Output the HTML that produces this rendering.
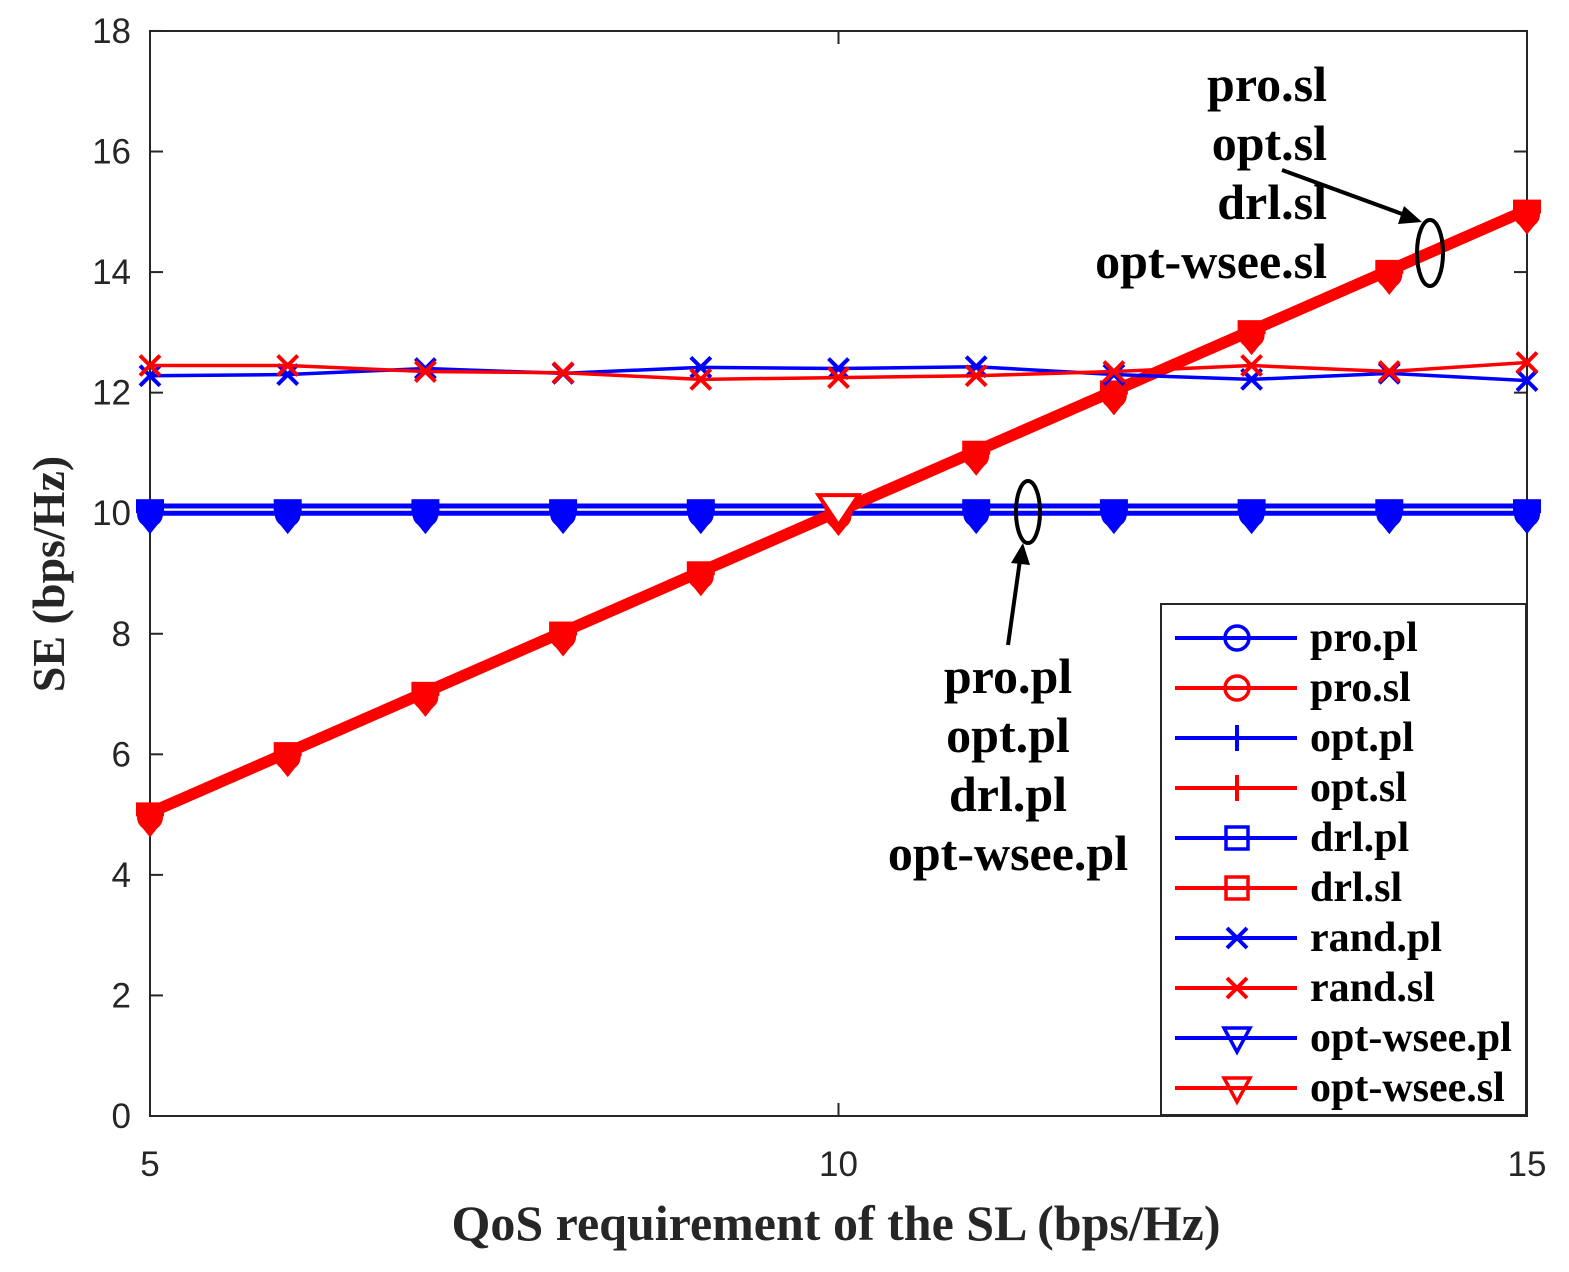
<!DOCTYPE html><html><head><style>body{margin:0;background:#fff}</style></head><body>
<svg id="s" width="1569" height="1267" xmlns="http://www.w3.org/2000/svg" font-family="Liberation Sans, sans-serif"></svg>
<script>
const s=document.getElementById('s');let h='';
const X=v=>150+(v-5)*137.7, Y=v=>1116-v*60.28;
h+='<rect x="150" y="31" width="1377" height="1085" fill="#fff" stroke="#262626" stroke-width="2"/>';
for(let v=0;v<=18;v+=2){const y=Y(v);h+=`<line x1="150" x2="163" y1="${y}" y2="${y}" stroke="#262626" stroke-width="2"/><line x1="1527" x2="1514" y1="${y}" y2="${y}" stroke="#262626" stroke-width="2"/><text x="131" y="${y+12}" font-size="35" text-anchor="end" fill="#262626">${v}</text>`;}
for(const v of [5,10,15]){const x=X(v);h+=`<line x1="${x}" x2="${x}" y1="1116" y2="1103" stroke="#262626" stroke-width="2"/><line x1="${x}" x2="${x}" y1="31" y2="44" stroke="#262626" stroke-width="2"/><text x="${x}" y="1176" font-size="35" text-anchor="middle" fill="#262626">${v}</text>`;}
h+='<text x="836" y="1240" font-family="Liberation Serif,serif" font-weight="bold" font-size="50" text-anchor="middle" fill="#262626">QoS requirement of the SL (bps/Hz)</text>';
h+='<text transform="translate(64,574) rotate(-90)" font-family="Liberation Serif,serif" font-weight="bold" font-size="46" text-anchor="middle" fill="#262626">SE (bps/Hz)</text>';
const xs=[5,6,7,8,9,10,11,12,13,14,15];
function line(vals,c,w){return `<polyline fill="none" stroke="${c}" stroke-width="${w}" points="${vals.map((v,i)=>X(xs[i])+','+Y(v)).join(' ')}"/>`;}
function cross(x,y,c){return `<path d="M${x-10},${y-10}L${x+10},${y+10}M${x-10},${y+10}L${x+10},${y-10}" stroke="${c}" stroke-width="4"/>`;}
function blob(x,y,c){return `<circle cx="${x}" cy="${y+4}" r="13" fill="${c}"/><rect x="${x-14}" y="${y-11}" width="28" height="14" fill="${c}"/><path d="M${x-8},${y+14}L${x},${y+24}L${x+8},${y+14}Z" fill="${c}"/>`;}
h+=line(xs.map(_=>10.12),'#00f',5)+line(xs.map(_=>10.0),'#00f',5);
xs.forEach(v=>{if(v!=10)h+=blob(X(v),Y(10.05),'#00f');});
h+=line(xs.map(v=>v+0.08),'#f00',6)+line(xs.map(v=>v-0.02),'#f00',6);
xs.forEach(v=>{h+=blob(X(v),Y(v+0.02),'#f00');});
const x10=X(10),y10=Y(10.05);h+=`<path d="M${x10-20},${y10-15}L${x10+20},${y10-15}L${x10},${y10+15}Z" fill="#fff" stroke="#f00" stroke-width="4"/>`;
const rp=[12.28,12.3,12.4,12.32,12.42,12.4,12.43,12.3,12.22,12.32,12.2],rs=[12.45,12.45,12.35,12.33,12.22,12.25,12.28,12.35,12.45,12.35,12.5];
h+=line(rp,'#00f',3.5);rp.forEach((v,i)=>h+=cross(X(xs[i]),Y(v),'#00f'));
h+=line(rs,'#f00',3.5);rs.forEach((v,i)=>h+=cross(X(xs[i]),Y(v),'#f00'));
const T=(x,y,t,a)=>`<text x="${x}" y="${y}" font-family="Liberation Serif,serif" font-weight="bold" font-size="50" text-anchor="${a}">${t}</text>`;
h+=T(1327,101,'pro.sl','end')+T(1327,160,'opt.sl','end')+T(1327,219,'drl.sl','end')+T(1327,278,'opt-wsee.sl','end');
h+='<ellipse cx="1430" cy="253" rx="13" ry="33" fill="none" stroke="#000" stroke-width="4"/><line x1="1282" y1="170" x2="1405" y2="215" stroke="#000" stroke-width="4"/><path d="M1422,222L1398,224L1404,206Z" fill="#000"/>';
h+='<ellipse cx="1028" cy="512" rx="12" ry="31" fill="none" stroke="#000" stroke-width="4"/><line x1="1008" y1="645" x2="1020" y2="560" stroke="#000" stroke-width="4"/><path d="M1023,543L1030,565L1011,563Z" fill="#000"/>';
h+=T(1008,693,'pro.pl','middle')+T(1008,752,'opt.pl','middle')+T(1008,811,'drl.pl','middle')+T(1008,870,'opt-wsee.pl','middle');
h+='<rect x="1161" y="604" width="365" height="511" fill="#fff" stroke="#262626" stroke-width="2"/>';
const L=['pro.pl','pro.sl','opt.pl','opt.sl','drl.pl','drl.sl','rand.pl','rand.sl','opt-wsee.pl','opt-wsee.sl'];
L.forEach((t,i)=>{const y=638+i*50,c=i%2?'#f00':'#00f',x=1237;h+=`<line x1="1175" x2="1297" y1="${y}" y2="${y}" stroke="${c}" stroke-width="4"/>`;
const k=Math.floor(i/2);
if(k==0)h+=`<circle cx="${x}" cy="${y}" r="12" fill="none" stroke="${c}" stroke-width="3.5"/>`;
if(k==1)h+=`<path d="M${x},${y-13}V${y+13}" stroke="${c}" stroke-width="4"/>`;
if(k==2)h+=`<rect x="${x-11}" y="${y-11}" width="22" height="22" fill="none" stroke="${c}" stroke-width="3.5"/>`;
if(k==3)h+=cross(x,y,c);
if(k==4)h+=`<path d="M${x-13},${y-10}L${x+13},${y-10}L${x},${y+14}Z" fill="none" stroke="${c}" stroke-width="3.5"/>`;
h+=`<text x="1310" y="${y+13}" font-family="Liberation Serif,serif" font-weight="bold" font-size="42">${t}</text>`;});
s.innerHTML=h;
</script></body></html>
